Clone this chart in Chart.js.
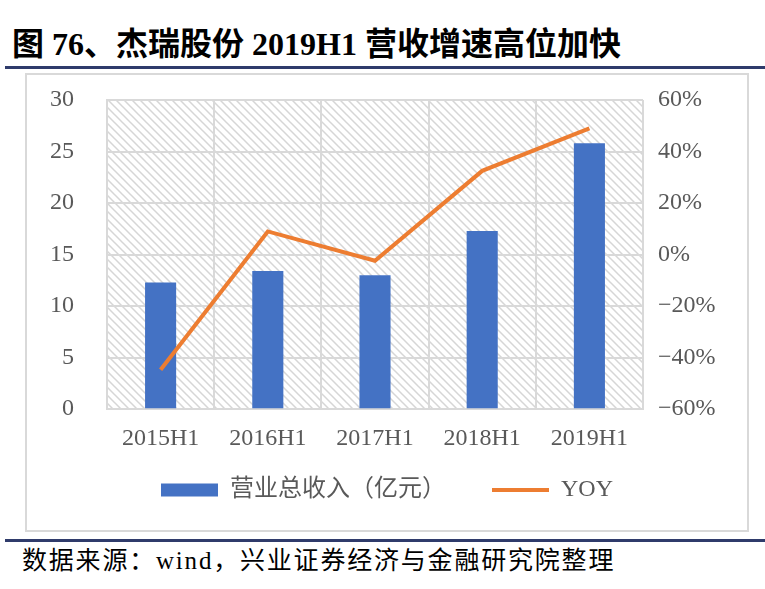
<!DOCTYPE html>
<html>
<head>
<meta charset="utf-8">
<script src="https://cdn.jsdelivr.net/npm/chart.js@4.4.1/dist/chart.umd.min.js"></script>
<style>
  html, body { margin: 0; padding: 0; background: #fff; }
  body { width: 765px; height: 589px; position: relative; overflow: hidden; }
  #titulo { position: absolute; left: 12px; top: 18px; font: bold 32px "Liberation Serif", "Noto Sans CJK SC", serif; color: #000; white-space: nowrap; }
  .linha { position: absolute; left: 5px; width: 760px; height: 3px; background: #2f3b6b; }
  #caixa { position: absolute; left: 25px; top: 73px; width: 720px; height: 455px; border: 2px solid #d9d9d9; }
  #fonte { position: absolute; left: 22px; top: 540px; font: 25px "Liberation Serif", "Noto Sans CJK SC", serif; letter-spacing: 1.8px; color: #000; white-space: nowrap; }
</style>
</head>
<body>
<div id="titulo">图 76、杰瑞股份 2019H1 营收增速高位加快</div>
<div class="linha" style="top:66px"></div>
<div id="caixa"><canvas id="chartJerry"></canvas></div>
<div class="linha" style="top:539px"></div>
<div id="fonte">数据来源：wind，兴业证券经济与金融研究院整理</div>

<script>
// dados
const periodos = ['2015H1', '2016H1', '2017H1', '2018H1', '2019H1'];
const receita = [12.3, 13.4, 13.0, 17.3, 25.8];   // 营业总收入（亿元）
const yoy = [-44.7, 9.0, -2.4, 32.5, 49.0];        // YOY %
const ticksEsq = [0, 30, 5];
const ticksDir = [-60, 60, 20];

const corTexto = '#595959';
const corGrade = '#d9d9d9';
const fonteEixo = { family: '"Liberation Serif", "Noto Sans CJK SC", serif', size: 24 };

// fundo hachurado da area do grafico
function criarHachura(){
  const c = document.createElement('canvas');
  c.width = 8; c.height = 8;
  const g = c.getContext('2d');
  g.fillStyle = '#fff'; g.fillRect(0, 0, 8, 8);
  g.strokeStyle = '#d6d6d6'; g.lineWidth = 1.5;
  g.beginPath();
  g.moveTo(-1, -1); g.lineTo(9, 9);
  g.moveTo(-9, -1); g.lineTo(1, 9);
  g.moveTo(7, -1); g.lineTo(17, 9);
  g.stroke();
  return g.createPattern(c, 'repeat');
}

const pluginHachura = {
  id: 'hachura',
  beforeDraw(chart){
    const { ctx, chartArea: a } = chart;
    ctx.save();
    ctx.fillStyle = criarHachura();
    ctx.fillRect(a.left, a.top, a.right - a.left, a.bottom - a.top);
    ctx.restore();
  }
};

const canvas = document.getElementById('chartJerry');
canvas.width = 720; canvas.height = 455;

new Chart(canvas, {
  type: 'bar',
  data: {
    labels: periodos,
    datasets: [
      {
        label: '营业总收入（亿元）',
        data: receita,
        backgroundColor: '#4472c4',
        borderWidth: 0,
        barPercentage: 0.29,
        categoryPercentage: 1,
        pointStyle: 'rect',
        yAxisID: 'y',
        order: 2
      },
      {
        type: 'line',
        label: 'YOY',
        data: yoy,
        borderColor: '#ed7d31',
        backgroundColor: '#ed7d31',
        borderWidth: 4,
        pointRadius: 0,
        pointStyle: 'line',
        tension: 0,
        yAxisID: 'y1',
        order: 1
      }
    ]
  },
  options: {
    responsive: false,
    animation: false,
    devicePixelRatio: 1,
    layout: { padding: { top: 25, bottom: 18, left: 0, right: 0 } },
    plugins: {
      legend: {
        position: 'bottom',
        labels: {
          color: corTexto, font: fonteEixo,
          usePointStyle: true, pointStyleWidth: 57, boxHeight: 13,
          padding: 10,
          sort: (a, b) => a.datasetIndex - b.datasetIndex,
          generateLabels: chart => {
            const itens = Chart.defaults.plugins.legend.labels.generateLabels(chart);
            // espaco extra entre os dois itens da legenda
            itens.forEach(it => { if (it.datasetIndex === 0) it.text += '\u3000\u3000'; });
            return itens;
          }
        }
      },
      tooltip: { enabled: false }
    },
    scales: {
      x: {
        grid: { color: corGrade, lineWidth: 2, offset: true, drawTicks: false },
        border: { color: corGrade, width: 2 },
        ticks: { color: corTexto, font: fonteEixo, padding: 15 }
      },
      y: {
        position: 'left',
        min: ticksEsq[0], max: ticksEsq[1],
        grid: { color: corGrade, lineWidth: 2, tickLength: 31, tickColor: 'rgba(0,0,0,0)' },
        border: { color: corGrade, width: 2 },
        ticks: { stepSize: ticksEsq[2], color: corTexto, font: fonteEixo, padding: 2 },
        afterFit: s => { s.width = 80; }
      },
      y1: {
        position: 'right',
        min: ticksDir[0], max: ticksDir[1],
        grid: { display: false, tickLength: 13 },
        border: { display: false },
        ticks: {
          stepSize: ticksDir[2], color: corTexto, font: fonteEixo, padding: 2,
          callback: v => (v < 0 ? '\u2212' + Math.abs(v) : v) + '%'
        },
        afterFit: s => { s.width = 104; }
      }
    }
  },
  plugins: [pluginHachura]
});
</script>
</body>
</html>
